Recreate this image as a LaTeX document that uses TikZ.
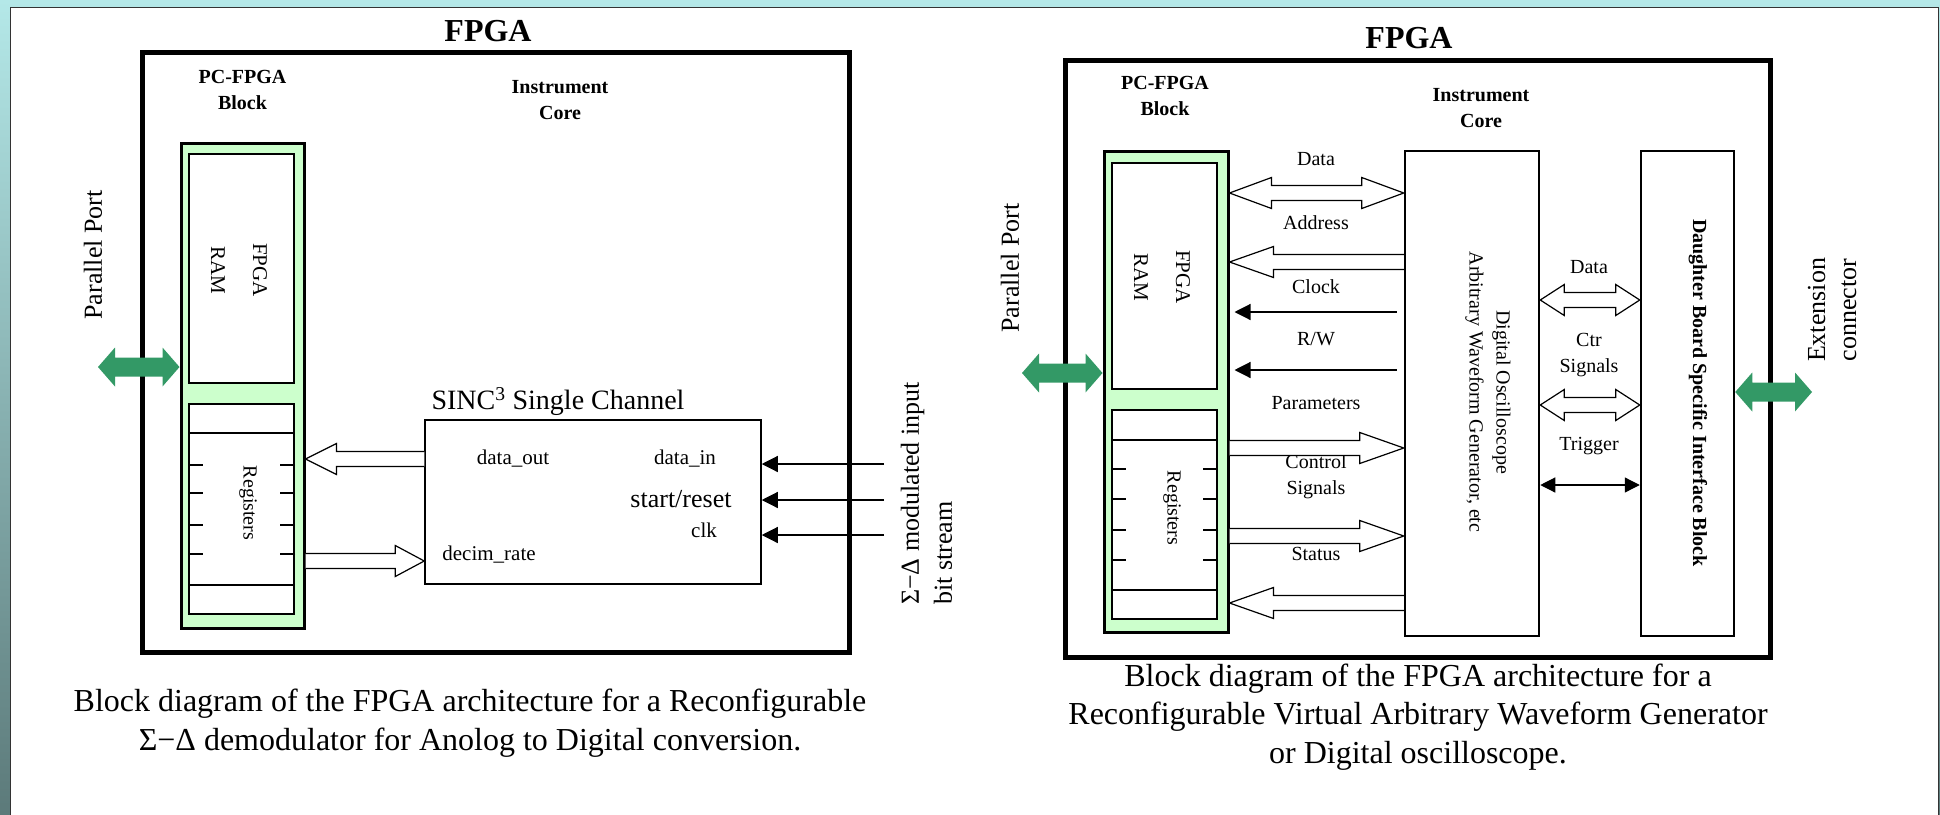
\documentclass[tikz,border=0pt]{standalone}
\usepackage{fontspec}
\setmainfont{Liberation Serif}
\usetikzlibrary{calc,arrows.meta}

\definecolor{pcGreen}{RGB}{204,255,204}
\definecolor{portGreen}{RGB}{51,153,102}
\definecolor{frameTop}{RGB}{180,232,232}
\definecolor{frameBottom}{RGB}{92,122,122}

%% hollow bus arrow: from, tip, y, head offset
\newcommand{\hollowArrow}[4]{%
  \coordinate (haA) at (#1 |- 0,#3);
  \coordinate (haB) at (#2 |- 0,#3);
  \draw[hollowDecorate] ($(haA)+(0,-7.5)$) -- ($(haB)+(#4,-7.5)$)
    -- ($(haB)+(#4,-15.5)$) -- (haB) -- ($(haB)+(#4,15.5)$)
    -- ($(haB)+(#4,7.5)$) -- ($(haA)+(0,7.5)$);
}
%% hollow two way bus: left, right, y, head length
\newcommand{\hollowDouble}[4]{%
  \coordinate (hdL) at (#1 |- 0,#3);
  \coordinate (hdR) at (#2 |- 0,#3);
  \draw[hollowDecorate] (hdL) -- ($(hdL)+(#4,-15.5)$) -- ($(hdL)+(#4,-7.5)$)
    -- ($(hdR)+(-#4,-7.5)$) -- ($(hdR)+(-#4,-15.5)$) -- (hdR)
    -- ($(hdR)+(-#4,15.5)$) -- ($(hdR)+(-#4,7.5)$) -- ($(hdL)+(#4,7.5)$)
    -- ($(hdL)+(#4,15.5)$) -- cycle;
}
%% green port arrow: left, right, y
\newcommand{\portArrow}[3]{%
  \coordinate (paL) at (#1 |- 0,#3);
  \coordinate (paR) at (#2 |- 0,#3);
  \fill[portGreen] (paL) -- ($(paL)+(17,-19.5)$) -- ($(paL)+(17,-9.5)$)
    -- ($(paR)+(-17,-9.5)$) -- ($(paR)+(-17,-19.5)$) -- (paR)
    -- ($(paR)+(-17,19.5)$) -- ($(paR)+(-17,9.5)$) -- ($(paL)+(17,9.5)$)
    -- ($(paL)+(17,19.5)$) -- cycle;
}

\begin{document}
\begin{tikzpicture}
[x=1pt,y=-1pt,
  boxDecorate/.style={draw,line width=2pt,fill=white,inner sep=0pt},
  fpgaDecorate/.style={draw,line width=5pt,inner sep=0pt},
  pcDecorate/.style={draw,line width=3pt,fill=pcGreen,inner sep=0pt},
  hollowDecorate/.style={draw,line width=1.2pt,fill=white,line join=miter},
  signalDecorate/.style={line width=1.2pt,-{Triangle[length=16pt,width=16pt]}},
  triggerDecorate/.style={line width=1.2pt,
    {Triangle[length=15pt,width=15pt]}-{Triangle[length=15pt,width=15pt]}},
  tickDecorate/.style={line width=2pt},
  textDecorate/.style={inner sep=0pt,align=center,font=\fontsize{20}{26}\selectfont},
  headDecorate/.style={inner sep=0pt,align=center,font=\bfseries\fontsize{20}{26}\selectfont},
  titleDecorate/.style={inner sep=0pt,font=\bfseries\fontsize{32}{36}\selectfont},
  bigDecorate/.style={inner sep=0pt,align=center,font=\fontsize{26}{31}\selectfont},
  capDecorate/.style={inner sep=0pt,align=center,font=\fontsize{32}{39}\selectfont}]

%% frame
\useasboundingbox (0,0) rectangle (1940,814);
\shade[top color=frameTop,bottom color=frameBottom] (0,0) rectangle (1940,814);
\draw[fill=white,draw=black!80,line width=1pt] (10,7) rectangle (1938,818);

%% left FPGA: nodes
\node[fpgaDecorate,minimum width=707,minimum height=600] (fpgaL) at (496,352.5) {};
\node[titleDecorate] (fpgaLTitle) at (488,31) {FPGA};
\node[headDecorate] (pcLTitle) at (242.5,89.5) {PC-FPGA\\Block};
\node[headDecorate] (coreLTitle) at (560,100) {Instrument\\Core};
\node[pcDecorate,minimum width=123,minimum height=485] (pcL) at (242.5,385.5) {};
\node[boxDecorate,minimum width=105,minimum height=229] (ramL) at (241.5,268.5) {};
\node[textDecorate,rotate=-90,font=\fontsize{21}{42}\selectfont] (ramLText) at (239,270) {FPGA\\RAM};
\node[boxDecorate,minimum width=105,minimum height=210] (regL) at (241.5,509) {};
\node[textDecorate,rotate=-90] (regLText) at (248,503) {Registers};
\node[boxDecorate,line width=1.5pt,minimum width=336,minimum height=164] (sinc) at (593,502) {};
\node[bigDecorate,font=\fontsize{28}{32}\selectfont] (sincTitle) at (558,402) {SINC\textsuperscript{3} Single Channel};
\foreach \name/\x/\y/\txt in {dataOut/513/459/data\_out, dataIn/685/459/data\_in,
  clk/704/530/clk, decim/489/555/decim\_rate}
{
  \node[textDecorate,font=\fontsize{21}{26}\selectfont] (\name) at (\x,\y) {\txt};
}
\node[bigDecorate] (startReset) at (681,499) {start\slash reset};
\node[bigDecorate,rotate=90,anchor=west,align=left,font=\fontsize{26}{33}\selectfont]
  (bitStream) at (926.5,605) {Σ−Δ modulated input\\bit stream};
\node[bigDecorate,rotate=90] (ppLText) at (93,255) {Parallel Port};

%% left FPGA: connectors
\hollowArrow{sinc.west}{pcL.east}{459}{31}
\hollowArrow{pcL.east}{sinc.west}{561}{-29}
\foreach \name/\y in {inData/464, inStart/500, inClk/535}
{
  \coordinate (\name) at (884,\y);
  \draw[signalDecorate] (\name) -- (sinc.east |- \name);
}
\coordinate (ppL) at (98,367);
\portArrow{ppL}{pcL.west}{367}

%% right FPGA: nodes
\node[fpgaDecorate,minimum width=705,minimum height=597] (fpgaR) at (1418,359) {};
\node[titleDecorate] (fpgaRTitle) at (1409,38) {FPGA};
\node[headDecorate] (pcRTitle) at (1165,96) {PC-FPGA\\Block};
\node[headDecorate] (coreRTitle) at (1481,108) {Instrument\\Core};
\node[pcDecorate,minimum width=124,minimum height=481] (pcR) at (1166,391.5) {};
\node[boxDecorate,minimum width=105,minimum height=226] (ramR) at (1164.5,276) {};
\node[textDecorate,rotate=-90,font=\fontsize{21}{42}\selectfont] (ramRText) at (1162,277) {FPGA\\RAM};
\node[boxDecorate,minimum width=105,minimum height=209] (regR) at (1164.5,514.5) {};
\node[textDecorate,rotate=-90] (regRText) at (1172,508) {Registers};
\node[boxDecorate,line width=2.5pt,minimum width=134,minimum height=485] (core) at (1472,393.5) {};
\node[textDecorate,rotate=-90,font=\fontsize{20}{27}\selectfont] (coreText) at (1488,392)
  {Digital Oscilloscope\\Arbitrary Waveform Generator, etc};
\node[boxDecorate,line width=2.5pt,minimum width=93,minimum height=485] (daughter) at (1687.5,393.5) {};
\node[headDecorate,rotate=-90] (daughterText) at (1698,393) {Daughter Board Specific Interface Block};
\node[bigDecorate,rotate=90] (extText) at (1832,310) {Extension\\connector};
\node[bigDecorate,rotate=90] (ppRText) at (1010,268) {Parallel Port};
\foreach \name/\x/\y/\txt in {lblData/1316/159/Data, lblAddr/1316/223/Address,
  lblClock/1316/287/Clock, lblRW/1316/339/R\slash W, lblParam/1316/403/Parameters,
  lblStatus/1316/554/Status, lblData2/1589/267/Data, lblTrig/1589/446/Trigger}
{
  \node[textDecorate] (\name) at (\x,\y) {\txt};
}
\node[textDecorate] (lblCtrl) at (1316,477) {Control\\Signals};
\node[textDecorate] (lblCtr) at (1589,355.5) {Ctr\\Signals};

%% right FPGA: connectors
\hollowDouble{pcR.east}{core.west}{193}{42}
\hollowArrow{core.west}{pcR.east}{262}{44}
\foreach \y in {312,370}
{
  \draw[signalDecorate,shorten <=7pt,shorten >=5pt] (core.west |- 0,\y) -- (pcR.east |- 0,\y);
}
\hollowArrow{pcR.east}{core.west}{448}{-44}
\hollowArrow{pcR.east}{core.west}{536}{-44}
\hollowArrow{core.west}{pcR.east}{603}{44}
\hollowDouble{core.east}{daughter.west}{300}{24}
\hollowDouble{core.east}{daughter.west}{405}{24}
\draw[triggerDecorate] (core.east |- 0,485) -- (daughter.west |- 0,485);
\coordinate (ppR) at (1022,373);
\portArrow{ppR}{pcR.west}{373}
\coordinate (extR) at (1812,392);
\portArrow{daughter.east}{extR}{392}

%% register dividers and ticks
\foreach \reg/\ya/\yb in {regL/433/585, regR/440/590}
{
  \draw[tickDecorate] (\reg.west |- 0,\ya) -- (\reg.east |- 0,\ya);
  \draw[tickDecorate] (\reg.west |- 0,\yb) -- (\reg.east |- 0,\yb);
}
\foreach \y in {465,493,525,554}
{
  \draw[tickDecorate] (regL.west |- 0,\y) -- ++(15,0);
  \draw[tickDecorate] (regL.east |- 0,\y) -- ++(-15,0);
}
\foreach \y in {469,499,530,560}
{
  \draw[tickDecorate] (regR.west |- 0,\y) -- ++(15,0);
  \draw[tickDecorate] (regR.east |- 0,\y) -- ++(-15,0);
}

%% captions
\node[capDecorate] (capL) at (470,723)
  {Block diagram of the FPGA architecture for a Reconfigurable\\Σ−Δ demodulator for Anolog to Digital conversion.};
\node[capDecorate,font=\fontsize{32}{38.5}\selectfont] (capR) at (1418,717)
  {Block diagram of the FPGA architecture for a\\Reconfigurable Virtual Arbitrary Waveform Generator\\or Digital oscilloscope.};
\end{tikzpicture}
\end{document}
